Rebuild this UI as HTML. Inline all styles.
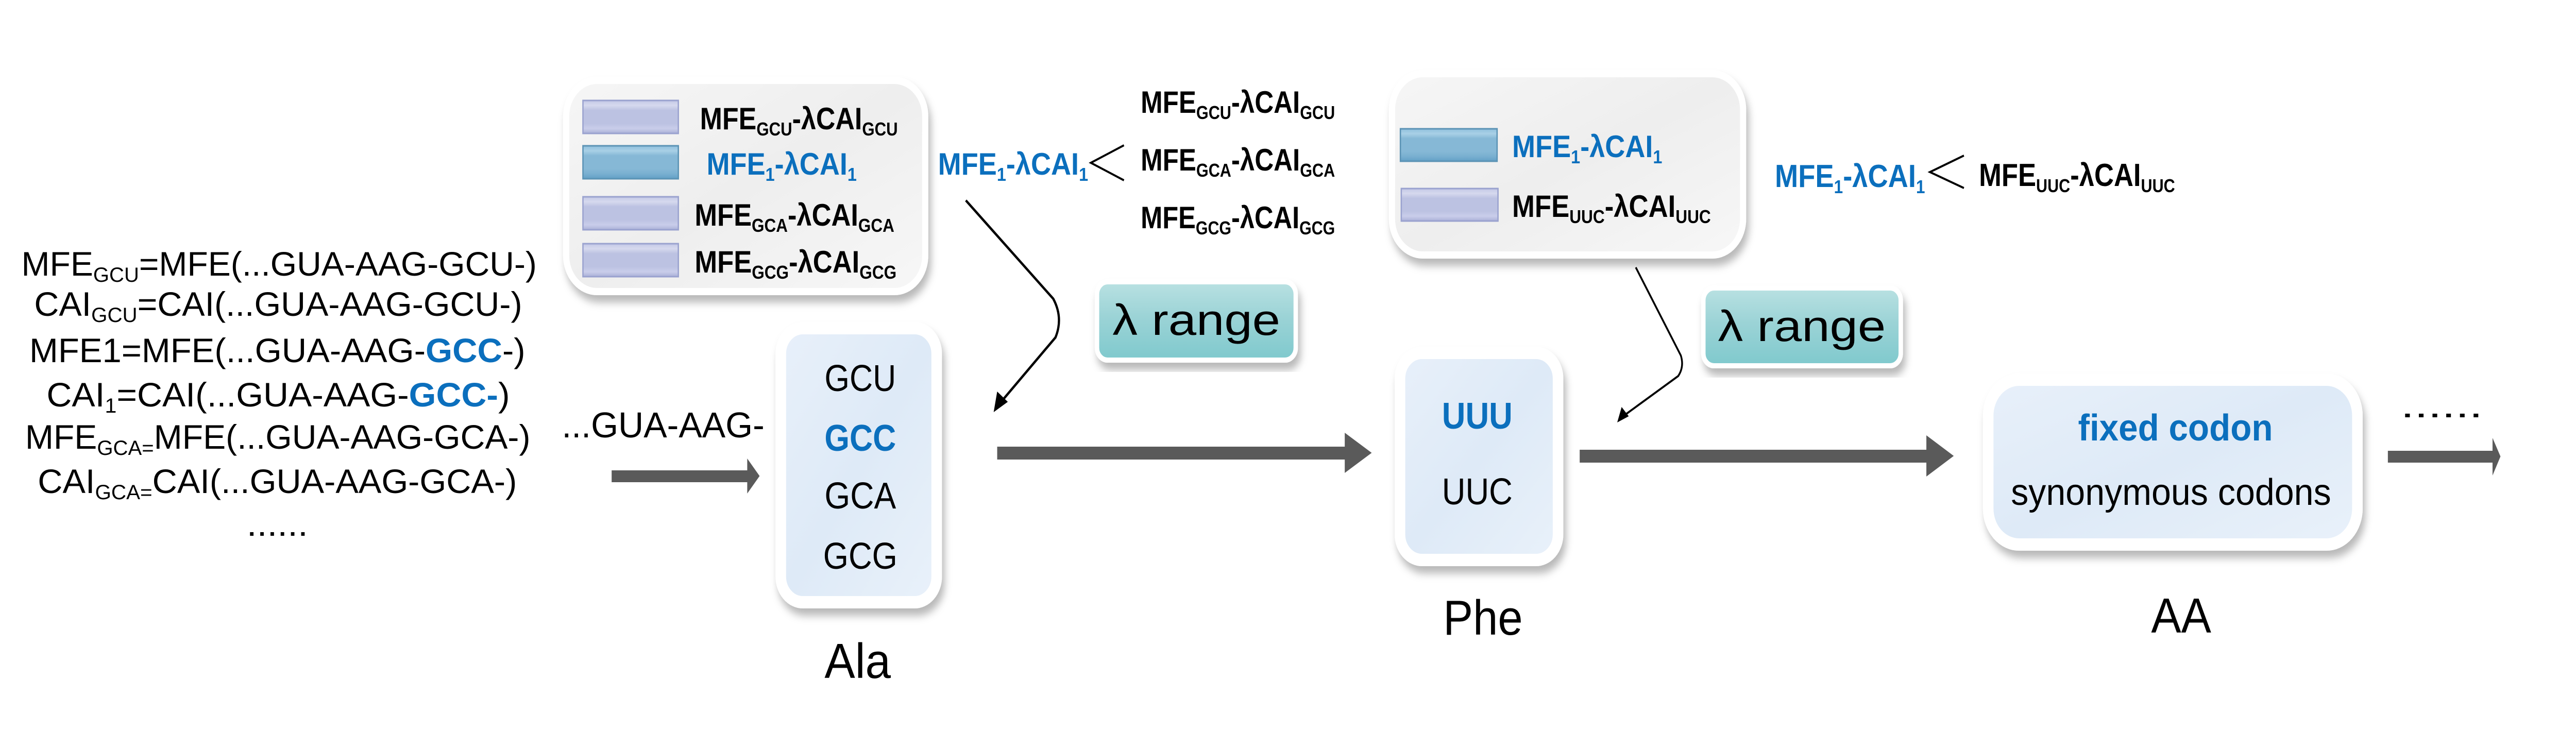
<!DOCTYPE html>
<html><head><meta charset="utf-8"><style>
html,body{margin:0;padding:0;background:#fff;width:100%;height:100%;overflow:hidden;}
svg{display:block;width:100vw;height:100vh;}
text{font-family:"Liberation Sans",Arial,sans-serif;}
</style></head><body>
<svg viewBox="0 0 5833 1450" preserveAspectRatio="none" xmlns="http://www.w3.org/2000/svg">
<defs>
<linearGradient id="gbox" x1="0" y1="0" x2="1" y2="1">
<stop offset="0" stop-color="#f6f6f6"/><stop offset="0.5" stop-color="#eeeeee"/><stop offset="1" stop-color="#f7f7f7"/></linearGradient>
<linearGradient id="gblue" x1="0" y1="0" x2="1" y2="1">
<stop offset="0" stop-color="#e8f0fa"/><stop offset="0.5" stop-color="#deeaf7"/><stop offset="1" stop-color="#e9f1fa"/></linearGradient>
<linearGradient id="gteal" x1="0" y1="0" x2="0" y2="1">
<stop offset="0" stop-color="#b9e1e2"/><stop offset="0.45" stop-color="#9bd3d6"/><stop offset="1" stop-color="#7fc9cd"/></linearGradient>
<linearGradient id="glav" x1="0" y1="0" x2="0" y2="1">
<stop offset="0" stop-color="#c3c8e6"/><stop offset="0.15" stop-color="#d6d9ee"/><stop offset="0.3" stop-color="#bcc2e2"/><stop offset="0.7" stop-color="#bcc2e2"/><stop offset="0.85" stop-color="#c9cdea"/><stop offset="1" stop-color="#abb1d8"/></linearGradient>
<linearGradient id="gbar" x1="0" y1="0" x2="0" y2="1">
<stop offset="0" stop-color="#8fbfdc"/><stop offset="0.15" stop-color="#a9d0e6"/><stop offset="0.3" stop-color="#86b8d6"/><stop offset="0.7" stop-color="#86b8d6"/><stop offset="0.85" stop-color="#79afd0"/><stop offset="1" stop-color="#62a0c6"/></linearGradient>
<filter id="sh" x="-10%" y="-10%" width="120%" height="125%"><feDropShadow dx="6" dy="14" stdDeviation="8" flood-color="#000" flood-opacity="0.28"/></filter>
</defs>

<g font-size="66" fill="#000" text-anchor="middle">
<text x="632" y="535" textLength="1167" lengthAdjust="spacingAndGlyphs">MFE<tspan font-size="40" dy="12">GCU</tspan><tspan dy="-12">=MFE(...GUA-AAG-GCU-)</tspan></text>
<text x="630" y="613" textLength="1105" lengthAdjust="spacingAndGlyphs">CAI<tspan font-size="40" dy="12">GCU</tspan><tspan dy="-12">=CAI(...GUA-AAG-GCU-)</tspan></text>
<text x="628" y="703" textLength="1123" lengthAdjust="spacingAndGlyphs">MFE1=MFE(...GUA-AAG-<tspan fill="#0b6fbd" font-weight="bold">GCC</tspan>-)</text>
<text x="630" y="789" textLength="1049" lengthAdjust="spacingAndGlyphs">CAI<tspan font-size="40" dy="12">1</tspan><tspan dy="-12">=CAI(...GUA-AAG-</tspan><tspan fill="#0b6fbd" font-weight="bold">GCC-</tspan>)</text>
<text x="629" y="871" textLength="1144" lengthAdjust="spacingAndGlyphs">MFE<tspan font-size="40" dy="12">GCA=</tspan><tspan dy="-12">MFE(...GUA-AAG-GCA-)</tspan></text>
<text x="628" y="957" textLength="1085" lengthAdjust="spacingAndGlyphs">CAI<tspan font-size="40" dy="12">GCA=</tspan><tspan dy="-12">CAI(...GUA-AAG-GCA-)</tspan></text>
<text x="628" y="1040" textLength="139" lengthAdjust="spacingAndGlyphs">......</text>
</g>

<rect x="1282" y="156" width="813" height="410" rx="70" fill="url(#gbox)" stroke="#ffffff" stroke-width="14" filter="url(#sh)"/>
<rect x="1320" y="195" width="216" height="64" fill="url(#glav)" stroke="#9aa2cf" stroke-width="3"/>
<rect x="1320" y="283" width="216" height="64" fill="url(#gbar)" stroke="#5b93b5" stroke-width="3"/>
<rect x="1320" y="382" width="216" height="64" fill="url(#glav)" stroke="#9aa2cf" stroke-width="3"/>
<rect x="1320" y="473" width="216" height="64" fill="url(#glav)" stroke="#9aa2cf" stroke-width="3"/>
<g font-size="60" font-weight="bold">
<text x="1585" y="251" textLength="448" lengthAdjust="spacingAndGlyphs">MFE<tspan font-size="36" dy="12">GCU</tspan><tspan dy="-12">-λCAI</tspan><tspan font-size="36" dy="12">GCU</tspan></text>
<text x="1600" y="339" fill="#0b6fbd" textLength="340" lengthAdjust="spacingAndGlyphs">MFE<tspan font-size="36" dy="12">1</tspan><tspan dy="-12">-λCAI</tspan><tspan font-size="36" dy="12">1</tspan></text>
<text x="1573" y="438" textLength="452" lengthAdjust="spacingAndGlyphs">MFE<tspan font-size="36" dy="12">GCA</tspan><tspan dy="-12">-λCAI</tspan><tspan font-size="36" dy="12">GCA</tspan></text>
<text x="1573" y="529" textLength="457" lengthAdjust="spacingAndGlyphs">MFE<tspan font-size="36" dy="12">GCG</tspan><tspan dy="-12">-λCAI</tspan><tspan font-size="36" dy="12">GCG</tspan></text>
</g>

<g font-size="60" font-weight="bold">
<text x="2124" y="339" fill="#0b6fbd" textLength="340" lengthAdjust="spacingAndGlyphs">MFE<tspan font-size="36" dy="12">1</tspan><tspan dy="-12">-λCAI</tspan><tspan font-size="36" dy="12">1</tspan></text>
<text x="2583" y="219" textLength="440" lengthAdjust="spacingAndGlyphs">MFE<tspan font-size="36" dy="12">GCU</tspan><tspan dy="-12">-λCAI</tspan><tspan font-size="36" dy="12">GCU</tspan></text>
<text x="2583" y="331" textLength="440" lengthAdjust="spacingAndGlyphs">MFE<tspan font-size="36" dy="12">GCA</tspan><tspan dy="-12">-λCAI</tspan><tspan font-size="36" dy="12">GCA</tspan></text>
<text x="2583" y="443" textLength="440" lengthAdjust="spacingAndGlyphs">MFE<tspan font-size="36" dy="12">GCG</tspan><tspan dy="-12">-λCAI</tspan><tspan font-size="36" dy="12">GCG</tspan></text>
</g>
<path d="M2545,282 L2470,316 L2545,350" fill="none" stroke="#000" stroke-width="4"/>

<path d="M2187,389 L2385,580 Q2408,617 2390,655 L2262,785" fill="none" stroke="#000" stroke-width="5"/>
<path d="M2250,800 L2258,760 L2282,780 z" fill="#000"/>

<rect x="2484" y="547" width="450" height="152" rx="24" fill="url(#gteal)" stroke="#fff" stroke-width="10" filter="url(#sh)"/>
<text x="2709" y="650" font-size="84" text-anchor="middle" textLength="380" lengthAdjust="spacingAndGlyphs">λ range</text>

<rect x="1768" y="637" width="353" height="532" rx="50" fill="url(#gblue)" stroke="#fff" stroke-width="24" filter="url(#sh)"/>
<g font-size="72" text-anchor="middle">
<text x="1948" y="759" textLength="162" lengthAdjust="spacingAndGlyphs">GCU</text>
<text x="1948" y="875" fill="#0b6fbd" font-weight="bold" textLength="162" lengthAdjust="spacingAndGlyphs">GCC</text>
<text x="1948" y="987" textLength="162" lengthAdjust="spacingAndGlyphs">GCA</text>
<text x="1948" y="1104" textLength="168" lengthAdjust="spacingAndGlyphs">GCG</text>
</g>
<text x="1942" y="1316" font-size="96" text-anchor="middle" textLength="150" lengthAdjust="spacingAndGlyphs">Ala</text>
<text x="1272" y="849" font-size="70" textLength="459" lengthAdjust="spacingAndGlyphs">...GUA-AAG-</text>

<g fill="#5a5a5a">
<rect x="1385" y="913" width="310" height="23"/>
<path d="M1692,890 L1720,924 L1692,958 z"/>
<rect x="2258" y="867" width="790" height="25"/>
<path d="M3045,840 L3106,879 L3045,918 z"/>
<rect x="3577" y="873" width="790" height="25"/>
<path d="M4362,845 L4424,885 L4362,925 z"/>
<rect x="5407" y="875" width="240" height="23"/>
<path d="M5644,850 L5662,886 L5644,923 z"/>
</g>

<rect x="3152" y="143" width="795" height="352" rx="70" fill="url(#gbox)" stroke="#ffffff" stroke-width="14" filter="url(#sh)"/>
<rect x="3171" y="250" width="219" height="63" fill="url(#gbar)" stroke="#5b93b5" stroke-width="3"/>
<rect x="3173" y="366" width="219" height="63" fill="url(#glav)" stroke="#9aa2cf" stroke-width="3"/>
<g font-size="60" font-weight="bold">
<text x="3424" y="305" fill="#0b6fbd" textLength="340" lengthAdjust="spacingAndGlyphs">MFE<tspan font-size="36" dy="12">1</tspan><tspan dy="-12">-λCAI</tspan><tspan font-size="36" dy="12">1</tspan></text>
<text x="3424" y="421" textLength="450" lengthAdjust="spacingAndGlyphs">MFE<tspan font-size="36" dy="12">UUC</tspan><tspan dy="-12">-λCAI</tspan><tspan font-size="36" dy="12">UUC</tspan></text>
</g>

<g font-size="62" font-weight="bold">
<text x="4019" y="363" fill="#0b6fbd" textLength="340" lengthAdjust="spacingAndGlyphs">MFE<tspan font-size="36" dy="12">1</tspan><tspan dy="-12">-λCAI</tspan><tspan font-size="36" dy="12">1</tspan></text>
<text x="4481" y="361" textLength="444" lengthAdjust="spacingAndGlyphs">MFE<tspan font-size="36" dy="12">UUC</tspan><tspan dy="-12">-λCAI</tspan><tspan font-size="36" dy="12">UUC</tspan></text>
</g>
<path d="M4447,302 L4370,334 L4447,365" fill="none" stroke="#000" stroke-width="4"/>

<path d="M3704,519 L3806,690 Q3814,712 3800,730 L3672,810" fill="none" stroke="#000" stroke-width="4"/>
<path d="M3662,820 L3672,790 L3688,808 z" fill="#000"/>

<rect x="3857" y="559" width="447" height="151" rx="24" fill="url(#gteal)" stroke="#fff" stroke-width="10" filter="url(#sh)"/>
<text x="4080" y="662" font-size="84" text-anchor="middle" textLength="380" lengthAdjust="spacingAndGlyphs">λ range</text>

<rect x="3170" y="685" width="358" height="402" rx="50" fill="url(#gblue)" stroke="#fff" stroke-width="24" filter="url(#sh)"/>
<g font-size="72" text-anchor="middle">
<text x="3345" y="832" fill="#0b6fbd" font-weight="bold" textLength="160" lengthAdjust="spacingAndGlyphs">UUU</text>
<text x="3345" y="979" textLength="160" lengthAdjust="spacingAndGlyphs">UUC</text>
</g>
<text x="3358" y="1232" font-size="96" text-anchor="middle" textLength="180" lengthAdjust="spacingAndGlyphs">Phe</text>

<rect x="4502" y="737" width="836" height="320" rx="70" fill="url(#gblue)" stroke="#fff" stroke-width="24" filter="url(#sh)"/>
<text x="4926" y="855" font-size="72" fill="#0b6fbd" font-weight="bold" text-anchor="middle" textLength="441" lengthAdjust="spacingAndGlyphs">fixed codon</text>
<text x="4916" y="980" font-size="72" text-anchor="middle" textLength="725" lengthAdjust="spacingAndGlyphs">synonymous codons</text>
<text x="4939" y="1228" font-size="96" text-anchor="middle" textLength="136" lengthAdjust="spacingAndGlyphs">AA</text>
<text x="5436" y="810" font-size="66" textLength="186" lengthAdjust="spacingAndGlyphs">......</text>
</svg>
</body></html>
